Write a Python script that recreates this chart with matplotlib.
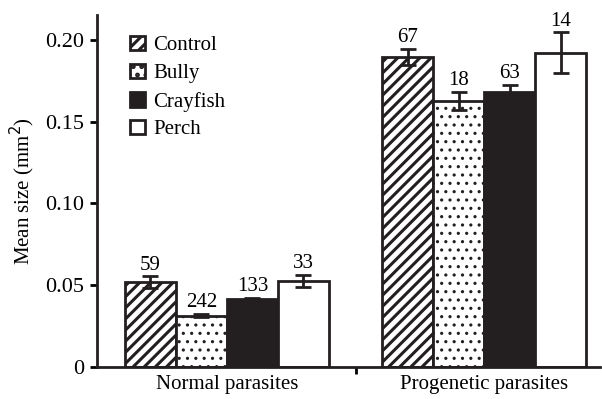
import numpy as np
import matplotlib
matplotlib.use('Agg')
import matplotlib.pyplot as plt

plt.rcParams['font.family'] = ['Liberation Serif', 'DejaVu Serif']
plt.rcParams['hatch.linewidth'] = 2.2

groups = ['Normal parasites', 'Progenetic parasites']
treatments = ['Control', 'Bully', 'Crayfish', 'Perch']
means = {
    'Control': [0.052, 0.1895],
    'Bully': [0.0315, 0.1625],
    'Crayfish': [0.0415, 0.168],
    'Perch': [0.0525, 0.192],
}
errors = {
    'Control': [0.0035, 0.0048],
    'Bully': [0.0012, 0.0055],
    'Crayfish': [0.0008, 0.0045],
    'Perch': [0.0038, 0.0125],
}
counts = {
    'Control': [59, 67],
    'Bully': [242, 18],
    'Crayfish': [133, 63],
    'Perch': [33, 14],
}
styles = {
    'Control': dict(facecolor='white', hatch='///'),
    'Bully': dict(facecolor='white', hatch='..'),
    'Crayfish': dict(facecolor='#231f20', hatch=None),
    'Perch': dict(facecolor='white', hatch=None),
}
hatch_lw = {'Control': 2.2, 'Bully': 1.1, 'Crayfish': 1, 'Perch': 1}

fig = plt.figure(figsize=(6.02, 3.99), dpi=100)
ax = fig.add_axes([0.161, 0.08, 0.836, 0.882])

x = np.arange(len(groups))
w = 0.198
for i, t in enumerate(treatments):
    pos = x + (i - 1.5) * w
    bars = ax.bar(pos, means[t], w, edgecolor='#231f20', linewidth=2,
                  label=t, zorder=2, **styles[t])
    for b in bars:
        if hasattr(b, 'set_hatch_linewidth'):
            b.set_hatch_linewidth(hatch_lw[t])
    ax.errorbar(pos, means[t], yerr=errors[t], fmt='none', ecolor='#231f20',
                elinewidth=2, capsize=6, capthick=2, zorder=3)
    for p, m, e, n in zip(pos, means[t], errors[t], counts[t]):
        ax.text(p, m + e + 0.001, str(n), ha='center', va='bottom', fontsize=15)

ax.set_xlim(-0.505, 1.45)
ax.set_ylim(0, 0.215)
ax.set_yticks([0, 0.05, 0.10, 0.15, 0.20])
ax.set_yticklabels(['0', '0.05', '0.10', '0.15', '0.20'], fontsize=16)
ax.set_xticks([0.5])
ax.set_xticklabels([''])
ax.set_xticks(x, minor=True)
ax.set_xticklabels(groups, minor=True, fontsize=15)
ax.tick_params(axis='x', which='minor', length=0, pad=6)
ax.tick_params(axis='x', which='major', length=5, width=2)
ax.tick_params(axis='y', length=5, width=2, pad=4)
ax.set_ylabel('Mean size (mm$^2$)', fontsize=15, labelpad=6)
for s in ['top', 'right']:
    ax.spines[s].set_visible(False)
for s in ['left', 'bottom']:
    ax.spines[s].set_linewidth(2)
    ax.spines[s].set_color('#231f20')

ax.legend(loc='upper left', bbox_to_anchor=(0.05, 0.965), frameon=False,
          fontsize=15, handlelength=0.7, handleheight=0.7, handletextpad=0.4,
          labelspacing=0.4, borderaxespad=0)

fig.savefig('out.png', dpi=100)
